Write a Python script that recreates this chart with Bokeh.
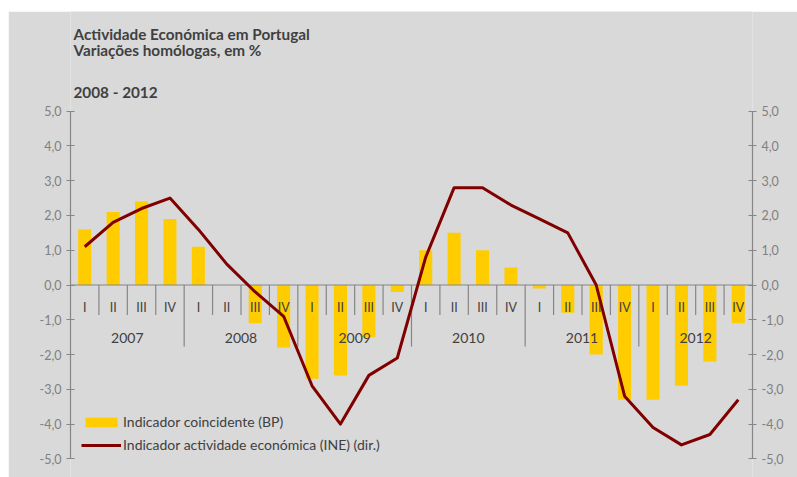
from bokeh.plotting import figure
from bokeh.models import Range1d, LinearAxis, Legend, LegendItem, FixedTicker, ColumnDataSource
from bokeh.embed import file_html
from bokeh.resources import INLINE
from bokeh.core.properties import value

# ---------------- data ----------------
years = ["2007", "2008", "2009", "2010", "2011", "2012"]
quarters = ["I", "II", "III", "IV"]
coincidente_bp = [1.6, 2.1, 2.4, 1.9,
                  1.1, 0.0, -1.1, -1.8,
                  -2.7, -2.6, -1.5, -0.2,
                  1.0, 1.5, 1.0, 0.5,
                  -0.1, -0.8, -2.0, -3.3,
                  -3.3, -2.9, -2.2, -1.1]
actividade_ine = [1.1, 1.8, 2.2, 2.5,
                  1.6, 0.6, -0.2, -0.9,
                  -2.9, -4.0, -2.6, -2.1,
                  0.8, 2.8, 2.8, 2.3,
                  1.9, 1.5, 0.0, -3.2,
                  -4.1, -4.6, -4.3, -3.3]
y_ticks = [-5, -4, -3, -2, -1, 0, 1, 2, 3, 4, 5]
title_lines = ["Actividade Económica em Portugal", "Variações homólogas, em %", "2008 - 2012"]
legend_labels = ["Indicador coincidente (BP)", "Indicador actividade económica (INE) (dir.)"]

# ---------------- layout constants (page pixels) ----------------
PAGE_X0, PAGE_Y0 = 8, 11          # top-left of the grey panel
W, H = 789, 466
FRAME_L, FRAME_R = 70, 752        # plot area left / right (axes)
Y5_PAGE, YM5_PAGE = 110.7, 458.3  # page y of +5 and -5
YMIN, YMAX = -5, 5
SCALE = (YM5_PAGE - Y5_PAGE) / (YMAX - YMIN)
BG = "#d9d9d9"
AX = "#868686"
TXT = "#404040"
FONT = "Lato"

def py(page_y):
    """page pixel y -> data y"""
    return YMAX - (page_y - Y5_PAGE) / SCALE

n = len(coincidente_bp)
nq = len(quarters)

def px(page_x):
    return (page_x - FRAME_L) * n / (FRAME_R - FRAME_L)

xs = [i + 0.5 for i in range(n)]
src = ColumnDataSource(dict(x=xs, bp=coincidente_bp, ine=actividade_ine))

y_top, y_bot = py(PAGE_Y0), py(PAGE_Y0 + H)
p = figure(width=W, height=H, x_range=Range1d(0, n), y_range=Range1d(y_bot, y_top),
           x_axis_location=None, y_axis_location=None,
           output_backend="svg", toolbar_location=None,
           min_border_left=FRAME_L - PAGE_X0, min_border_right=PAGE_X0 + W - FRAME_R,
           min_border_top=0, min_border_bottom=0,
           background_fill_color=BG, border_fill_color=BG, outline_line_color=None,
           styles={"margin-left": "%dpx" % PAGE_X0, "margin-top": "%dpx" % PAGE_Y0})
p.extra_y_ranges = {"dir": Range1d(y_bot, y_top)}
p.grid.visible = False
p.xgrid.visible = False
p.ygrid.visible = False

fmt = {t: ("%.1f" % t).replace(".", ",") for t in y_ticks}
for rng, loc in ((None, "left"), ("dir", "right")):
    kw = dict(ticker=FixedTicker(ticks=y_ticks), major_label_overrides=fmt,
              bounds=(YMIN, YMAX),
              axis_line_color=AX, axis_line_width=1.2,
              major_tick_line_color=AX, major_tick_line_width=1.2,
              major_tick_in=4, major_tick_out=4,
              minor_tick_line_color=None,
              major_label_text_color="#808080", major_label_text_font=FONT,
              major_label_text_font_size="12.5px", major_label_standoff=5)
    if rng:
        kw["y_range_name"] = rng
    p.add_layout(LinearAxis(**kw), loc)

# bars
bars = p.vbar(x="x", top="bp", bottom=0, width=0.46, source=src,
              fill_color="#ffcc00", line_color=None)

# category axis at y = 0
bounds = list(range(1, n))
tick_bottom = [py(346) if b % nq == 0 else py(314.5) for b in bounds]
p.segment(x0=bounds, y0=[0] * len(bounds), x1=bounds, y1=tick_bottom,
          line_color=AX, line_width=1.2)
p.segment(x0=[0], y0=[0], x1=[n], y1=[0], line_color=AX, line_width=1.2)
p.text(x=xs, y=[py(307)] * n, text=quarters * len(years),
       text_align="center", text_baseline="middle",
       text_font=value(FONT), text_font_size="12.5px", text_color=TXT)
p.text(x=[nq * i + nq / 2 for i in range(len(years))], y=[py(337)] * len(years), text=years,
       text_align="center", text_baseline="middle",
       text_font=value(FONT), text_font_size="14px", text_color=TXT)

# line (right axis)
line = p.line(x="x", y="ine", source=src, y_range_name="dir",
              line_color="#800000", line_width=3, line_join="round")

# titles
p.text(x=[px(73)] * len(title_lines), y=[py(33), py(49), py(91)], text=title_lines,
       text_align="left", text_baseline="middle",
       text_font=value(FONT), text_font_style="bold", text_font_size="15.3px", text_color=TXT)

legend = Legend(items=[LegendItem(label=legend_labels[0], renderers=[bars]),
                       LegendItem(label=legend_labels[1], renderers=[line])],
                location=(11, int(round(477 - 453.3))), orientation="vertical",
                background_fill_alpha=0, border_line_color=None,
                padding=0, margin=0, spacing=6,
                glyph_width=40, glyph_height=12, label_height=12, label_standoff=2,
                label_text_font=FONT, label_text_font_size="14px", label_text_color=TXT)
p.add_layout(legend)

open("out.html", "w").write(file_html(p, INLINE))
